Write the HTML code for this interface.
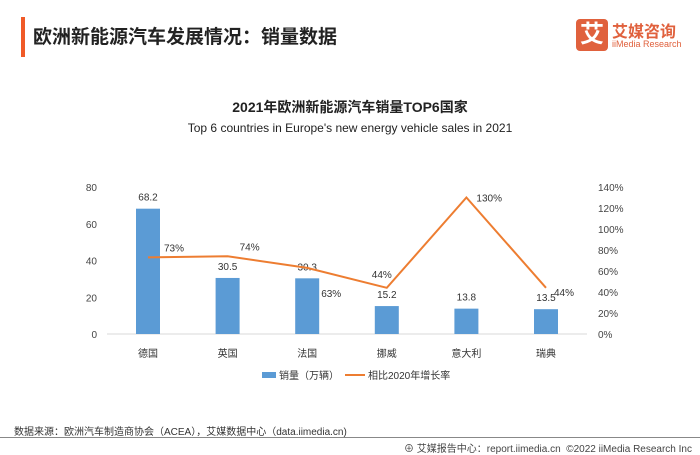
<!DOCTYPE html>
<html><head><meta charset="utf-8"><style>
body{margin:0;width:700px;height:455px;background:#fff;overflow:hidden;font-family:"Liberation Sans","Noto Sans CJK SC",sans-serif;position:relative}
.a{position:absolute;white-space:nowrap}
</style></head><body>
<div class="a" style="left:21px;top:17px;width:4px;height:40px;background:#f05a28"></div>
<div class="a" style="left:33px;top:22px;font-size:19px;font-weight:bold;color:#222">欧洲新能源汽车发展情况：销量数据</div>
<div class="a" style="left:576px;top:19px;width:32px;height:32px;background:#e0613d;border-radius:4px;color:#fff;font-size:24px;font-weight:bold;text-align:center;line-height:32px">艾</div>
<div class="a" style="left:612px;top:18px;font-size:16px;font-weight:bold;color:#e0613d">艾媒咨询</div>
<div class="a" style="left:612px;top:39px;font-size:9px;color:#e0613d">iiMedia Research</div>
<div class="a" style="left:0;width:700px;text-align:center;top:97px;font-size:14px;font-weight:bold;color:#222">2021年欧洲新能源汽车销量TOP6国家</div>
<div class="a" style="left:0;width:700px;text-align:center;top:121px;font-size:12px;color:#222">Top 6 countries in Europe's new energy vehicle sales in 2021</div>
<svg class="a" style="left:0;top:0" width="700" height="455" id="chart"></svg>
<div class="a" style="left:14px;top:423px;font-size:10px;color:#333">数据来源：欧洲汽车制造商协会（ACEA），艾媒数据中心（data.iimedia.cn)</div>
<div class="a" style="left:0;top:437px;width:700px;height:1px;background:#888"></div>
<div class="a" style="right:8px;top:440px;font-size:10px;color:#444">⊕ 艾媒报告中心：report.iimedia.cn &nbsp;©2022 iiMedia Research Inc</div>
<script>
const categories=["德国","英国","法国","挪威","意大利","瑞典"];
const sales=[68.2,30.5,30.3,15.2,13.8,13.5];
const growth=[73,74,63,44,130,44];
const leftTicks=[0,20,40,60,80];
const rightTicks=[0,20,40,60,80,100,120,140];
const NS="http://www.w3.org/2000/svg";
const svg=document.getElementById('chart');
const x0=107,x1=587,yB=334,yT=187;
const step=79.6;
const xc=i=>148+step*i;
const yL=v=>yB-(v/80)*(yB-yT);
const yR=v=>yB-(v/140)*(yB-yT);
function mk(t,a,txt){const e=document.createElementNS(NS,t);for(const k in a)e.setAttribute(k,a[k]);if(txt!=null)e.textContent=txt;svg.appendChild(e);return e;}
const ax=mk('line',{x1:x0,x2:x1,y1:yB,y2:yB,stroke:'#d9d9d9'});

leftTicks.forEach(v=>{const t=mk('text',{x:97,y:yL(v)+4,'text-anchor':'end','font-size':10,fill:'#444'},v);
});
rightTicks.forEach(v=>{const t=mk('text',{x:598,y:yR(v)+4,'font-size':10,fill:'#444'},v+'%');
});
categories.forEach((c,i)=>{
const b=mk('rect',{x:xc(i)-12,y:yL(sales[i]),width:24,height:yB-yL(sales[i]),fill:'#5b9bd5'});

const l=mk('text',{x:xc(i),y:yL(sales[i])-8,'text-anchor':'middle','font-size':10,fill:'#333'},sales[i]);

const cl=mk('text',{x:xc(i),y:357,'text-anchor':'middle','font-size':10,fill:'#333'},c);

});
const line=mk('polyline',{points:growth.map((v,i)=>xc(i)+','+yR(v)).join(' '),fill:'none',stroke:'#ed7d31','stroke-width':2});

const off=[[16,-10],[12,-10],[14,25],[-15,-14],[10,0],[8,4]];
growth.forEach((v,i)=>{const t=mk('text',{x:xc(i)+off[i][0],y:yR(v)+off[i][1]+4,'font-size':10,fill:'#333'},v+'%');
});
const lb=mk('rect',{x:262,y:372,width:14,height:6,fill:'#5b9bd5'});

const lt=mk('text',{x:279,y:379,'font-size':10,fill:'#333'},'销量（万辆）');

const ll=mk('line',{x1:345,x2:365,y1:375,y2:375,stroke:'#ed7d31','stroke-width':2});

const lt2=mk('text',{x:368,y:379,'font-size':10,fill:'#333'},'相比2020年增长率');

</script>
</body></html>
